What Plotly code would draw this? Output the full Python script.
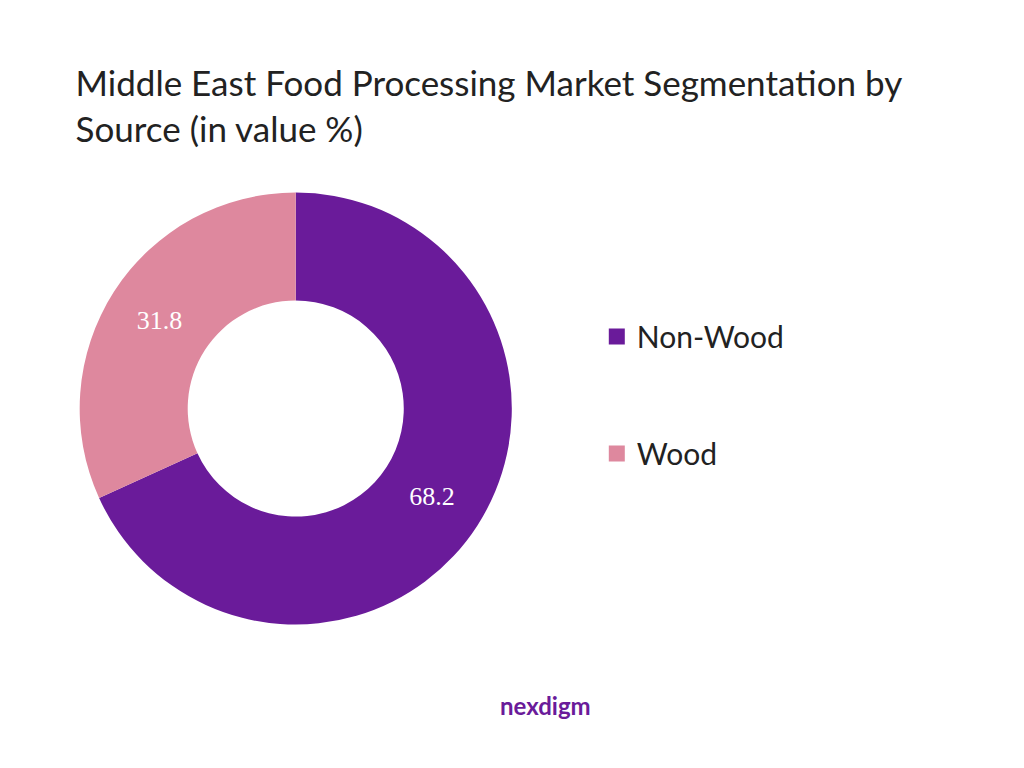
import plotly.graph_objects as go

labels = ["Non-Wood", "Wood"]
values = [68.2, 31.8]
colors = ["#6A1B9A", "#DE889E"]

fig = go.Figure()
fig.add_trace(go.Pie(
    labels=labels, values=values, hole=0.5, sort=False, direction="clockwise",
    rotation=0, marker=dict(colors=colors), textinfo="value", showlegend=False,
    textfont=dict(family="Liberation Serif", size=26, color="white"),
    domain=dict(x=[0.07, 0.492], y=[0.197, 0.76]),
))

# legend entries as separate traces so the gap between them can be set
for name, color in zip(labels, colors):
    fig.add_trace(go.Scatter(x=[None], y=[None], mode="markers", name=name,
                             legendgroup=name,
                             marker=dict(symbol="square", size=22, color=color)))

fig.update_layout(
    width=1024, height=768,
    paper_bgcolor="white", plot_bgcolor="white",
    margin=dict(l=0, r=0, t=0, b=0),
    xaxis=dict(visible=False), yaxis=dict(visible=False),
    title=dict(text="Middle East Food Processing Market Segmentation by<br>Source (in value %)",
               x=0.066, xanchor="left", y=0.885, yanchor="top",
               font=dict(family="Lato", size=35, color="#222")),
    legend=dict(x=0.575, y=0.496, yanchor="middle", font=dict(family="Lato", size=30, color="#222"),
                tracegroupgap=75, itemwidth=30),
    annotations=[dict(text="<b>nexdigm</b>", x=0.525, y=0.07, xref="paper", yref="paper",
                      showarrow=False, font=dict(family="Lato", size=24, color="#6A1B9A"))],
)

fig.write_html("out.html")
